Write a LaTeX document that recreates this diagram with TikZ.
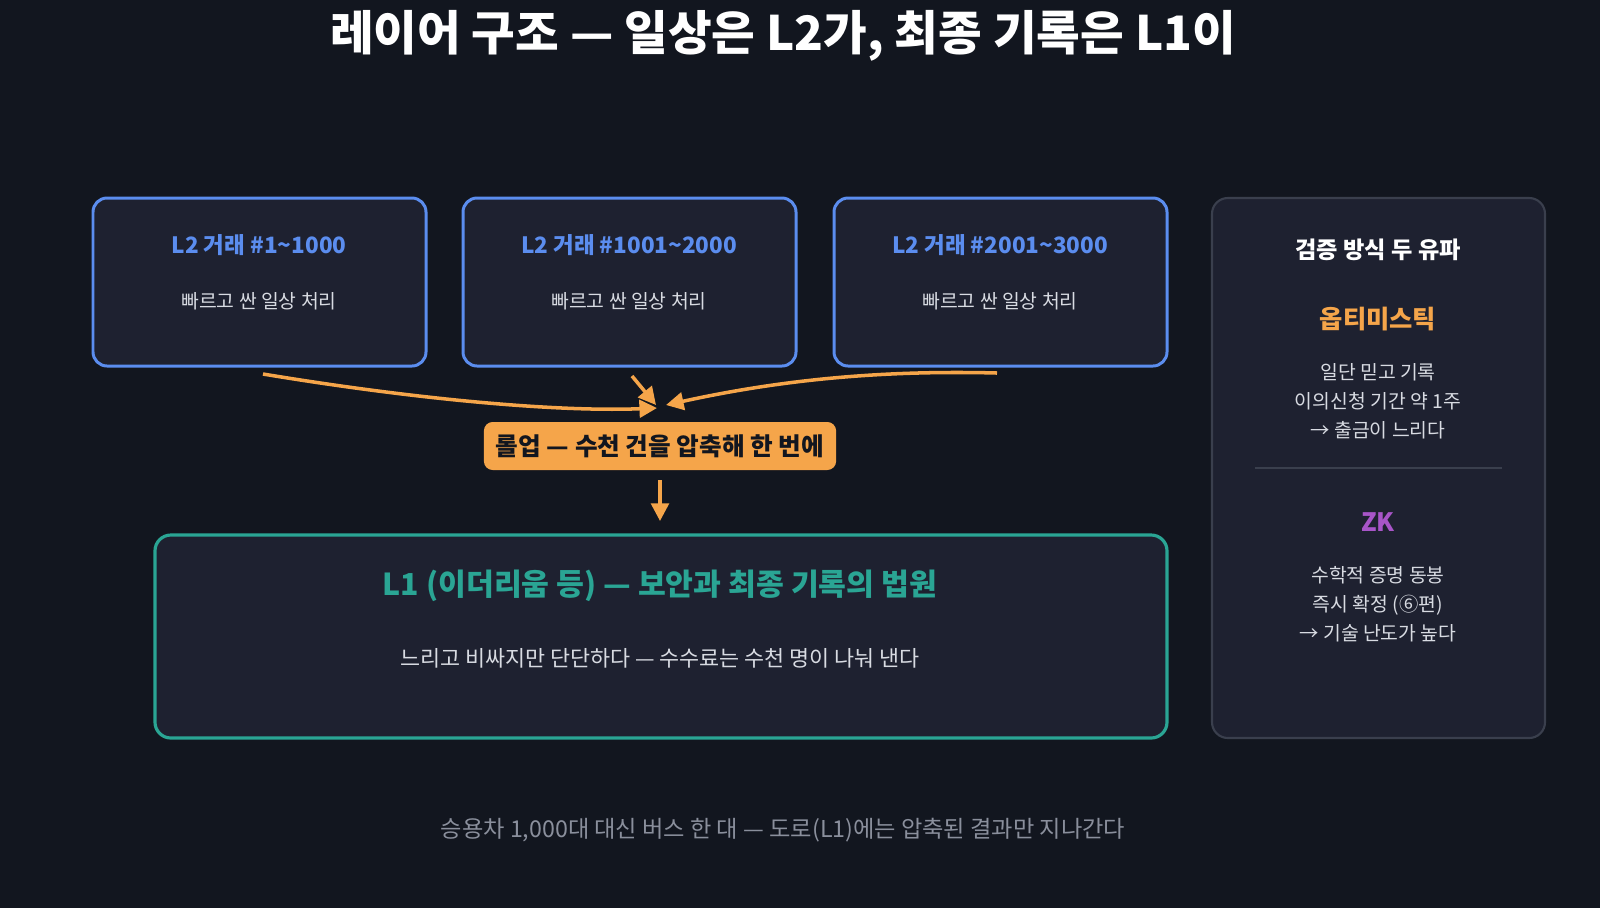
\documentclass[tikz,border=0pt]{standalone}
\usepackage{fontspec}
\setmainfont{Noto Sans CJK KR}
\usetikzlibrary{arrows.meta}
\definecolor{bgdark}{HTML}{12161F}
\definecolor{boxfill}{HTML}{1E2130}
\definecolor{l2blue}{HTML}{5B8DEF}
\definecolor{rollorange}{HTML}{F5A54A}
\definecolor{l1teal}{HTML}{2AA594}
\definecolor{zkpurple}{HTML}{A855C8}
\definecolor{panelgray}{HTML}{3A3F4D}
\definecolor{bodytext}{HTML}{D8DBE2}
\definecolor{captext}{HTML}{8A8F9C}
\tikzset{
  l2box/.style={draw=l2blue, line width=0.85pt, fill=boxfill, rounded corners=4pt},
  flow/.style={draw=rollorange, line width=1pt, -{Triangle[length=5pt,width=5pt]}},
  bodyfont/.style={font=\fontsize{5.5}{8.2}\selectfont, text=bodytext, align=center}
}
\begin{document}
\begin{tikzpicture}[x=0.01cm, y=-0.01cm]
  \fill[bgdark] (0,0) rectangle (1600,908);
  \useasboundingbox (0,0) rectangle (1600,908);

  %% title
  \node[font=\fontsize{13.5}{16}\bfseries\selectfont, text=white] (title) at (783,36) {레이어 구조 — 일상은 L2가, 최종 기록은 L1이};

  %% L2 boxes
  \foreach \i/\x/\txt in {1/93/\#1\textasciitilde 1000, 2/463/\#1001\textasciitilde 2000, 3/834/\#2001\textasciitilde 3000}{
    \draw[l2box] (\x,198) rectangle ++(333,168);
    \node[font=\fontsize{6.4}{8}\bfseries\selectfont, text=l2blue] (l2t\i) at (\x+166,245) {L2 거래 \txt};
    \node[bodyfont] (l2b\i) at (\x+166,301) {빠르고 싼 일상 처리};
  }

  %% rollup
  \node[fill=rollorange, rounded corners=2.5pt, minimum width=3.52cm, minimum height=0.48cm, inner sep=0pt,
        font=\fontsize{7}{9}\bfseries\selectfont, text=bgdark] (rollup) at (660,446) {롤업 — 수천 건을 압축해 한 번에};
  \coordinate (from1) at (263,374);
  \coordinate (from2) at (632,376);
  \coordinate (from3) at (997,373);
  \coordinate (into1) at (657,408);
  \coordinate (into2) at (656,405);
  \coordinate (into3) at (666,405);
  \draw[flow] (from1) .. controls (420,400) and (560,412) .. (into1);
  \draw[flow] (from2) -- (into2);
  \draw[flow] (from3) .. controls (880,370) and (780,380) .. (into3);
  \coordinate (rs) at (660,480);
  \coordinate (down) at (660,521);
  \draw[flow] (rs) -- (down);

  %% L1 box
  \draw[draw=l1teal, line width=0.9pt, fill=boxfill, rounded corners=4.5pt] (155,535) rectangle (1167,738);
  \node[font=\fontsize{8.6}{11}\bfseries\selectfont, text=l1teal] (l1t) at (660,586) {L1 (이더리움 등) — 보안과 최종 기록의 법원};
  \node[font=\fontsize{6.2}{9}\selectfont, text=bodytext] (l1b) at (660,658) {느리고 비싸지만 단단하다 — 수수료는 수천 명이 나눠 낸다};

  %% right panel
  \draw[draw=panelgray, line width=0.6pt, fill=boxfill, rounded corners=4.5pt] (1212,198) rectangle (1545,738);
  \node[font=\fontsize{6.6}{8}\bfseries\selectfont, text=white] (ptitle) at (1378,250) {검증 방식 두 유파};
  \node[font=\fontsize{7.2}{9}\bfseries\selectfont, text=rollorange] (opt) at (1378,319) {옵티미스틱};
  \node[bodyfont] (optb) at (1378,401) {일단 믿고 기록\\이의신청 기간 약 1주\\→ 출금이 느리다};
  \draw[panelgray, line width=0.4pt] (1255,468) -- (1502,468);
  \node[font=\fontsize{7.2}{9}\bfseries\selectfont, text=zkpurple] (zk) at (1378,522) {ZK};
  \node[bodyfont] (zkb) at (1378,604) {수학적 증명 동봉\\즉시 확정 (⑥편)\\→ 기술 난도가 높다};

  %% caption
  \node[font=\fontsize{6.6}{8}\selectfont, text=captext] (cap) at (783,830) {승용차 1,000대 대신 버스 한 대 — 도로(L1)에는 압축된 결과만 지나간다};
\end{tikzpicture}
\end{document}
